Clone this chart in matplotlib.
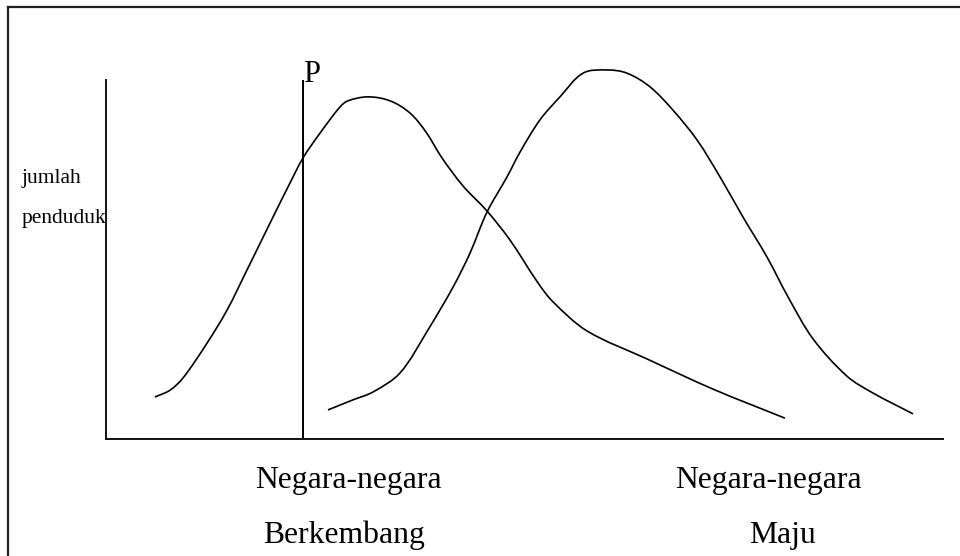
import matplotlib.pyplot as plt
import numpy as np
from matplotlib.lines import Line2D
from matplotlib.patches import PathPatch
from matplotlib.path import Path

W, H = 960, 556

# kurva negara berkembang (x: 0-100 sepanjang sumbu, y: 0-100 tinggi sumbu)
berkembang_x = [5.85, 7.65, 9.2, 12.07, 14.46, 16.85, 19.95, 21.98, 23.54, 25.57, 27.96,
                28.91, 31.30, 33.93, 36.32, 38.23, 40.14, 42.65, 45.52, 48.27, 51.61,
                53.41, 57.47, 64.64, 72.52, 81.12]
berkembang_y = [11.7, 13.6, 17.0, 26.7, 35.9, 47.1, 61.8, 71.3, 78.3, 85.2, 92.5,
                94.2, 95.3, 94.2, 90.8, 85.5, 78.3, 70.5, 63.5, 55.4, 43.5,
                38.2, 30.1, 22.3, 13.9, 5.8]

# kurva negara maju
maju_x = [26.52, 29.51, 31.90, 35.13, 38.47, 41.46, 43.49, 45.52, 47.91, 49.46,
          51.85, 54.24, 56.99, 59.86, 62.25, 64.99, 67.74, 70.61, 73.36, 76.11,
          78.97, 81.48, 84.47, 88.53, 91.64, 96.42]
maju_y = [8.1, 10.9, 13.1, 18.4, 30.4, 42.3, 51.8, 63.2, 73.0, 79.9,
          88.9, 95.3, 101.9, 102.8, 101.9, 98.1, 91.6, 83.3, 73.0, 61.8,
          50.7, 39.6, 27.9, 17.5, 12.8, 7.0]

garis_p = 23.5

plt.rcParams["font.family"] = ["Liberation Serif", "DejaVu Serif"]


def kurva_halus(ax, xs, ys, **kw):
    """Garis mulus (Bezier) yang melewati semua titik data."""
    # skala data -> piksel supaya tangen dihitung secara isotropik
    (x0, y0), (x1, y1) = ax.transData.transform([(0, 0), (1, 1)])
    s = np.array([x1 - x0, y1 - y0])
    p = np.column_stack([xs, ys]).astype(float) * s
    n = len(p)
    tang = np.zeros_like(p)
    for i in range(n):
        d = p[min(i + 1, n - 1)] - p[max(i - 1, 0)]
        tang[i] = d / np.hypot(*d)
    verts = [tuple(p[0] / s)]
    codes = [Path.MOVETO]
    for i in range(n - 1):
        L = np.hypot(*(p[i + 1] - p[i])) / 3
        c1 = p[i] + tang[i] * L
        c2 = p[i + 1] - tang[i + 1] * L
        verts += [tuple(c1 / s), tuple(c2 / s), tuple(p[i + 1] / s)]
        codes += [Path.CURVE4] * 3
    patch = PathPatch(Path(verts, codes), fill=False, transform=ax.transData,
                      clip_on=False, **kw)
    ax.add_patch(patch)


fig = plt.figure(figsize=(W / 100, H / 100), dpi=100)
fig.patch.set_facecolor("white")

# bingkai (hanya sisi atas dan kiri yang terlihat)
fig.add_artist(Line2D([8 / W, 1], [1 - 7 / H, 1 - 7 / H], color="#222222", linewidth=1.6))
fig.add_artist(Line2D([8 / W, 8 / W], [0, 1 - 7 / H], color="#222222", linewidth=1.6))

ax = fig.add_axes([106 / W, 1 - 439 / H, (943 - 106) / W, (439 - 80) / H])
ax.set_xlim(0, 100)
ax.set_ylim(0, 100)
for side in ("top", "right"):
    ax.spines[side].set_visible(False)
for side in ("left", "bottom"):
    ax.spines[side].set_linewidth(1.4)
    ax.spines[side].set_color("#111111")
ax.set_xticks([])
ax.set_yticks([])
ax.patch.set_alpha(0)

kurva_halus(ax, berkembang_x, berkembang_y, edgecolor="black", linewidth=1.2)
kurva_halus(ax, maju_x, maju_y, edgecolor="black", linewidth=1.2)
ax.axvline(garis_p, 0, 1, color="black", linewidth=1.4)


def teks(x, y, s, size, ha="left"):
    fig.text(x / W, 1 - y / H, s, fontsize=size, ha=ha, va="baseline", color="black")


teks(303, 82, "P", 22)
teks(22, 183, "jumlah", 15.5)
teks(22, 223, "penduduk", 15.5)
teks(348.5, 488, "Negara-negara", 22.8, ha="center")
teks(344.5, 543, "Berkembang", 22.8, ha="center")
teks(768.5, 488, "Negara-negara", 22.8, ha="center")
teks(782, 543, "Maju", 22.8, ha="center")

fig.savefig("out.png", dpi=100, facecolor="white")
